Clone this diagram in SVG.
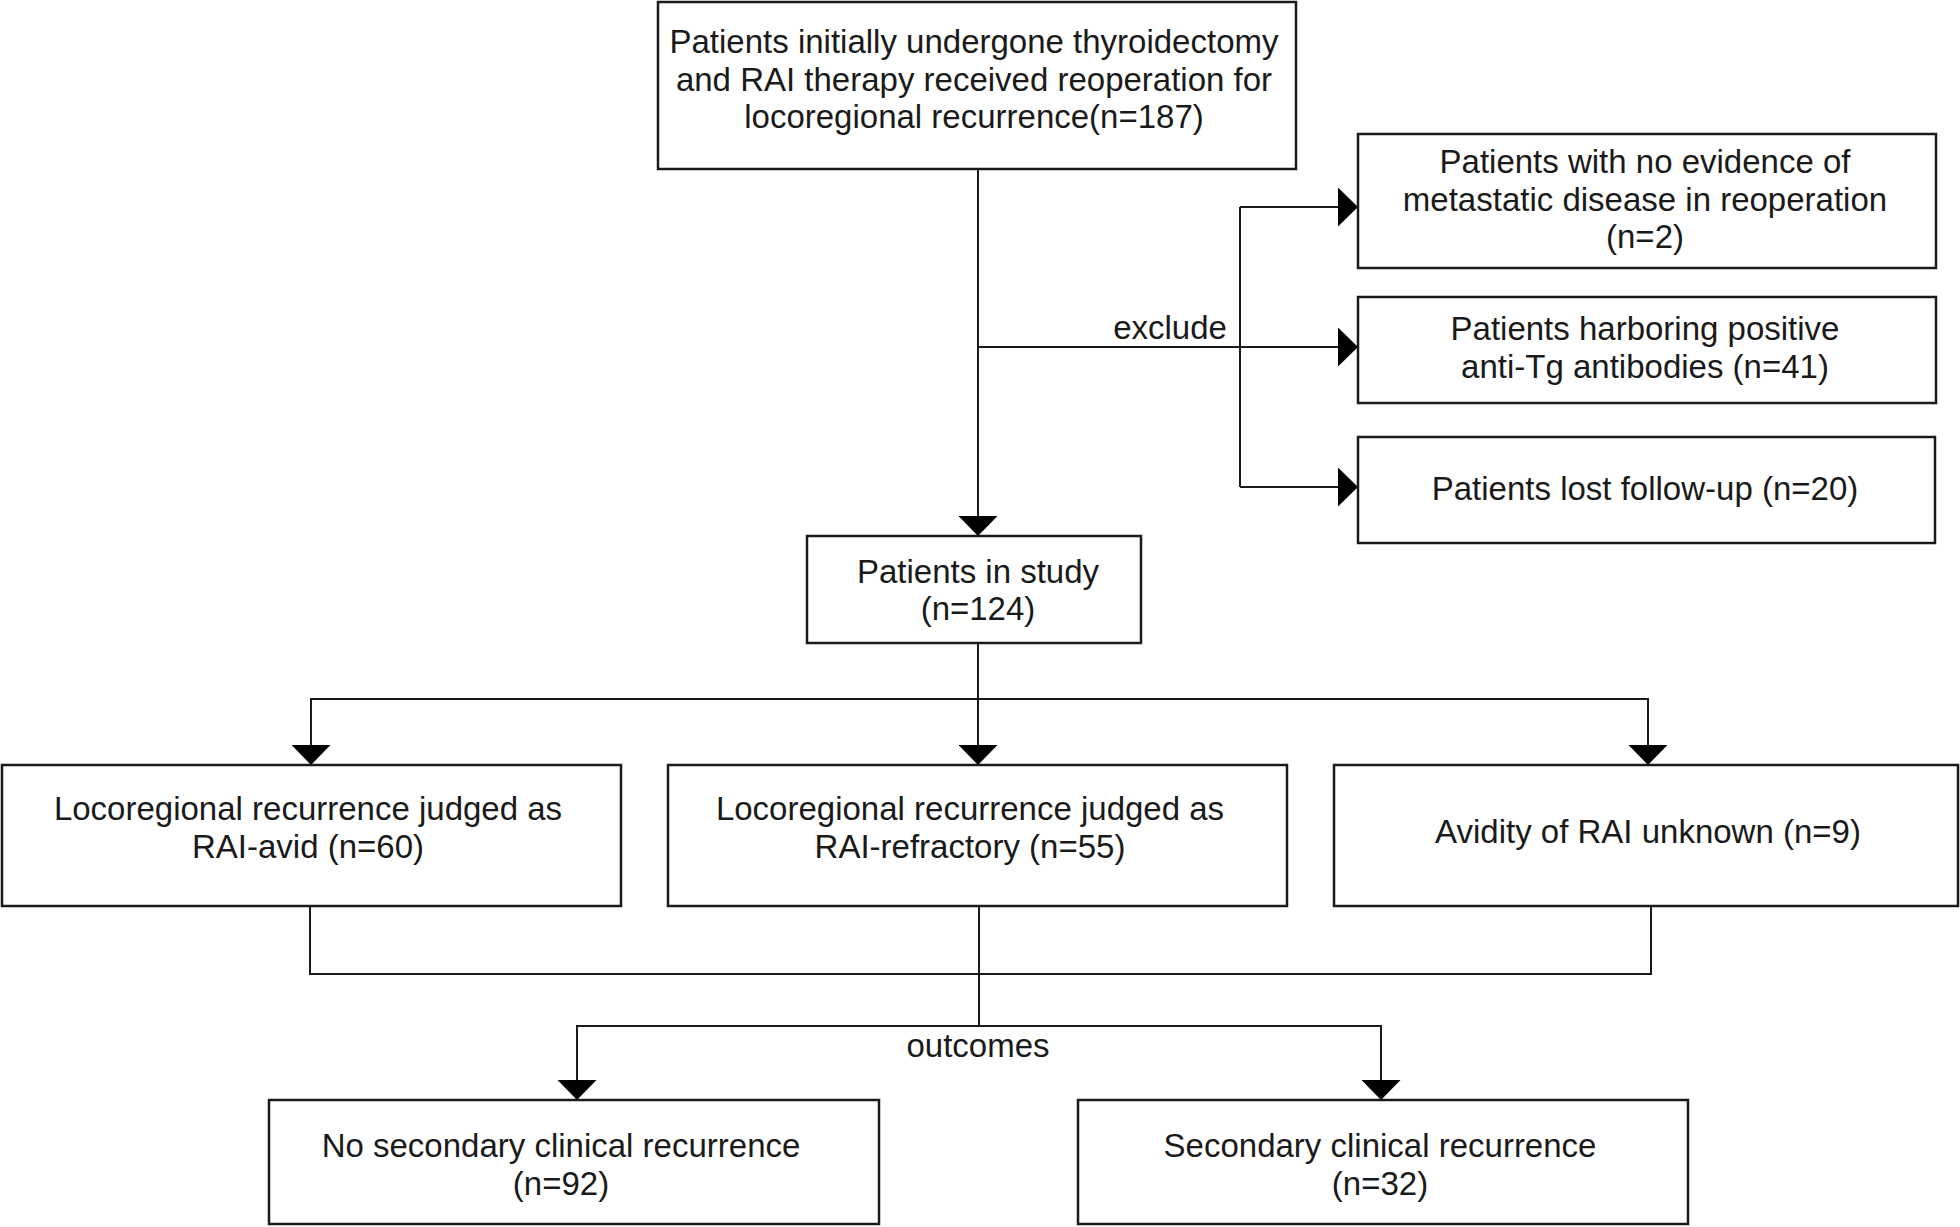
<svg xmlns="http://www.w3.org/2000/svg" width="1960" height="1227" viewBox="0 0 1960 1227">
<style>
.box{fill:#fff;stroke:#1a1a1a;stroke-width:2.5}
.ln{fill:none;stroke:#1a1a1a;stroke-width:2}
text{font-family:"Liberation Sans",Arial,sans-serif;font-size:33px;fill:#1a1a1a;text-anchor:middle}
</style>
<defs>
<marker id="ah" markerUnits="userSpaceOnUse" markerWidth="20" markerHeight="39" refX="20" refY="19.5" orient="auto" viewBox="0 0 20 39">
<path d="M0,0 L20,19.5 L0,39 z" fill="#000"/>
</marker>
</defs>
<rect width="1960" height="1227" fill="#fff"/>
<g id="connectors">
<path class="ln" d="M978,169 L978,536" marker-end="url(#ah)"/>
<path class="ln" d="M978,347 L1358,347" marker-end="url(#ah)"/>
<path class="ln" d="M1240,207 L1240,487"/>
<path class="ln" d="M1240,207 L1358,207" marker-end="url(#ah)"/>
<path class="ln" d="M1240,487 L1358,487" marker-end="url(#ah)"/>
<path class="ln" d="M978,643 L978,765" marker-end="url(#ah)"/>
<path class="ln" d="M978,699 L311,699 L311,765" marker-end="url(#ah)"/>
<path class="ln" d="M978,699 L1648,699 L1648,765" marker-end="url(#ah)"/>
<path class="ln" d="M310,906 L310,974 L1651,974 L1651,906"/>
<path class="ln" d="M979,906 L979,1026"/>
<path class="ln" d="M979,1026 L577,1026 L577,1100" marker-end="url(#ah)"/>
<path class="ln" d="M979,1026 L1381,1026 L1381,1100" marker-end="url(#ah)"/>
<text x="1170" y="339">exclude</text>
<text x="978" y="1057">outcomes</text>
</g>
<g id="n-top">
<rect class="box" x="658" y="2" width="638" height="167"/>
<text x="974" y="53">Patients initially undergone thyroidectomy</text>
<text x="974" y="91">and RAI therapy received reoperation for</text>
<text x="974" y="128">locoregional recurrence(n=187)</text>
</g>
<g id="n-ex1">
<rect class="box" x="1358" y="134" width="578" height="134"/>
<text x="1645" y="173">Patients with no evidence of</text>
<text x="1645" y="211">metastatic disease in reoperation</text>
<text x="1645" y="248">(n=2)</text>
</g>
<g id="n-ex2">
<rect class="box" x="1358" y="297" width="578" height="106"/>
<text x="1645" y="340">Patients harboring positive</text>
<text x="1645" y="378">anti-Tg antibodies (n=41)</text>
</g>
<g id="n-ex3">
<rect class="box" x="1358" y="437" width="577" height="106"/>
<text x="1645" y="500">Patients lost follow-up (n=20)</text>
</g>
<g id="n-study">
<rect class="box" x="807" y="536" width="334" height="107"/>
<text x="978" y="583">Patients in study</text>
<text x="978" y="620">(n=124)</text>
</g>
<g id="n-avid">
<rect class="box" x="2" y="765" width="619" height="141"/>
<text x="308" y="820">Locoregional recurrence judged as</text>
<text x="308" y="858">RAI-avid (n=60)</text>
</g>
<g id="n-refractory">
<rect class="box" x="668" y="765" width="619" height="141"/>
<text x="970" y="820">Locoregional recurrence judged as</text>
<text x="970" y="858">RAI-refractory (n=55)</text>
</g>
<g id="n-unknown">
<rect class="box" x="1334" y="765" width="624" height="141"/>
<text x="1648" y="843">Avidity of RAI unknown (n=9)</text>
</g>
<g id="n-norec">
<rect class="box" x="269" y="1100" width="610" height="124"/>
<text x="561" y="1157">No secondary clinical recurrence</text>
<text x="561" y="1195">(n=92)</text>
</g>
<g id="n-rec">
<rect class="box" x="1078" y="1100" width="610" height="124"/>
<text x="1380" y="1157">Secondary clinical recurrence</text>
<text x="1380" y="1195">(n=32)</text>
</g>
</svg>
